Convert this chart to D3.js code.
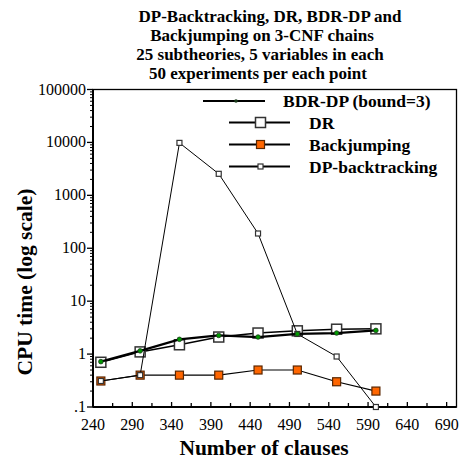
<!DOCTYPE html>
<html>
<head>
<meta charset="utf-8">
<script src="https://cdn.jsdelivr.net/npm/d3@7"></script>
<style>
  body { margin: 0; background: #fff; }
  text { font-family: "Liberation Serif", "Times New Roman", serif; }
  .title { font-weight: bold; font-size: 17px; }
  .axis-label { font-weight: bold; font-size: 21.5px; }
  .tick-label { font-size: 16px; }
  .legend-label { font-weight: bold; font-size: 17.5px; }
</style>
</head>
<body>
<div id="chart"></div>
<script>
var width = 465;
var height = 463;

// data
var clauses = [250, 300, 350, 400, 450, 500, 550, 600];
var bdrDp = [0.72, 1.15, 1.9, 2.25, 2.1, 2.4, 2.5, 2.8];
var dr = [0.7, 1.1, 1.5, 2.1, 2.5, 2.75, 2.95, 3.0];
var backjumping = [0.31, 0.4, 0.4, 0.4, 0.5, 0.5, 0.3, 0.2];
var dpBacktracking = [0.31, 0.4, 9800, 2550, 190, 2.4, 0.9, 0.1];

var xTicks = [240, 290, 340, 390, 440, 490, 540, 590, 640, 690];
var yTicks = [0.1, 1, 10, 100, 1000, 10000, 100000];
var yTickLabels = [".1", "1", "10", "100", "1000", "10000", "100000"];

var titleLines = [
  "DP-Backtracking, DR, BDR-DP and",
  "Backjumping on 3-CNF chains",
  "25 subtheories, 5 variables in each",
  "50 experiments per each point"
];

var svg = d3.select("#chart").append("svg")
  .attr("width", width)
  .attr("height", height);

var xScale = d3.scaleLinear()
  .domain([240, 700])
  .range([93, 454.5]);

var yScale = d3.scaleLog()
  .domain([0.1, 100000])
  .range([407, 89.5]);

// title
var titleX = [270, 262, 260, 258];
svg.selectAll(".title")
  .data(titleLines)
  .enter()
  .append("text")
  .attr("class", "title")
  .attr("x", function(d, i) { return titleX[i]; })
  .attr("y", function(d, i) { return 22 + i * 19; })
  .attr("text-anchor", "middle")
  .text(function(d) { return d; });

// frame
svg.append("rect")
  .attr("x", xScale.range()[0])
  .attr("y", yScale.range()[1])
  .attr("width", 456.5 - xScale.range()[0])
  .attr("height", yScale.range()[0] - yScale.range()[1])
  .attr("fill", "none")
  .attr("stroke", "black")
  .attr("stroke-width", 1.3);

// y axis line (thicker)
svg.append("line")
  .attr("x1", xScale.range()[0]).attr("x2", xScale.range()[0])
  .attr("y1", yScale.range()[1]).attr("y2", yScale.range()[0])
  .attr("stroke", "black").attr("stroke-width", 2);

// x axis line
svg.append("line")
  .attr("x1", xScale.range()[0]).attr("x2", 456.5)
  .attr("y1", yScale.range()[0]).attr("y2", yScale.range()[0])
  .attr("stroke", "black").attr("stroke-width", 2);

// y ticks: major + minor (outside, to the left)
var yMinor = [];
for (var e = -1; e < 5; e++) {
  for (var m = 2; m <= 9; m++) {
    yMinor.push(m * Math.pow(10, e));
  }
}
svg.selectAll(".yminor")
  .data(yMinor)
  .enter()
  .append("line")
  .attr("class", "yminor")
  .attr("x1", xScale.range()[0] - 3)
  .attr("x2", xScale.range()[0])
  .attr("y1", function(d) { return yScale(d); })
  .attr("y2", function(d) { return yScale(d); })
  .attr("stroke", "black")
  .attr("stroke-width", 1);

svg.selectAll(".ymajor")
  .data(yTicks)
  .enter()
  .append("line")
  .attr("class", "ymajor")
  .attr("x1", xScale.range()[0] - 6)
  .attr("x2", xScale.range()[0])
  .attr("y1", function(d) { return yScale(d); })
  .attr("y2", function(d) { return yScale(d); })
  .attr("stroke", "black")
  .attr("stroke-width", 1.3);

svg.selectAll(".ylabel")
  .data(yTicks)
  .enter()
  .append("text")
  .attr("class", "tick-label")
  .attr("x", 86)
  .attr("y", function(d) { return yScale(d) + 5; })
  .attr("text-anchor", "end")
  .text(function(d, i) { return yTickLabels[i]; });

// x ticks: every 25, pointing up (inside)
var xMinor = d3.range(240, 701, 25);
svg.selectAll(".xtick")
  .data(xMinor)
  .enter()
  .append("line")
  .attr("class", "xtick")
  .attr("x1", function(d) { return xScale(d); })
  .attr("x2", function(d) { return xScale(d); })
  .attr("y1", yScale.range()[0])
  .attr("y2", function(d) { return yScale.range()[0] - ((d - 240) % 50 === 0 ? 5 : 4); })
  .attr("stroke", "black")
  .attr("stroke-width", 1.3);

svg.selectAll(".xlabel")
  .data(xTicks)
  .enter()
  .append("text")
  .attr("class", "tick-label")
  .attr("x", function(d) { return xScale(d); })
  .attr("y", 430)
  .attr("text-anchor", "middle")
  .text(function(d) { return d; });

// axis titles
svg.append("text")
  .attr("class", "axis-label")
  .attr("x", 264)
  .attr("y", 455)
  .attr("text-anchor", "middle")
  .text("Number of clauses");

svg.append("text")
  .attr("class", "axis-label")
  .attr("transform", "translate(32,282) rotate(-90)")
  .attr("text-anchor", "middle")
  .text("CPU time (log scale)");

// series
var series = [
  {name: "DR", values: dr, width: 1.5, marker: "square", size: 10, fill: "white", stroke: "#333", sw: 1.5},
  {name: "Backjumping", values: backjumping, width: 1.2, marker: "square", size: 8, fill: "#ff6600", stroke: "#5a2600", sw: 1.2},
  {name: "DP-backtracking", values: dpBacktracking, width: 1, marker: "square", size: 5, fill: "white", stroke: "#333", sw: 1.2},
  {name: "BDR-DP (bound=3)", values: bdrDp, width: 2.2, marker: "dot", size: 2.3, fill: "#009900", stroke: "#1a3a1a", sw: 0.8}
];

var line = d3.line()
  .x(function(d) { return xScale(d[0]); })
  .y(function(d) { return yScale(d[1]); });

series.forEach(function(s) {
  var pts = clauses.map(function(c, i) { return [c, s.values[i]]; });
  var g = svg.append("g");
  g.append("path")
    .datum(pts)
    .attr("d", line)
    .attr("fill", "none")
    .attr("stroke", "black")
    .attr("stroke-width", s.width);
  if (s.marker === "square") {
    g.selectAll("rect")
      .data(pts)
      .enter()
      .append("rect")
      .attr("x", function(d) { return xScale(d[0]) - s.size / 2; })
      .attr("y", function(d) { return yScale(d[1]) - s.size / 2; })
      .attr("width", s.size)
      .attr("height", s.size)
      .attr("fill", s.fill)
      .attr("stroke", s.stroke)
      .attr("stroke-width", s.sw);
  } else {
    g.selectAll("circle")
      .data(pts)
      .enter()
      .append("circle")
      .attr("cx", function(d) { return xScale(d[0]); })
      .attr("cy", function(d) { return yScale(d[1]); })
      .attr("r", s.size)
      .attr("fill", s.fill)
      .attr("stroke", s.stroke)
      .attr("stroke-width", s.sw);
  }
});

// legend
var legendItems = [series[3], series[0], series[1], series[2]];
var legendLineX = [[203, 265], [229, 290], [229, 290], [229, 290]];
var legendTextX = [283, 309, 309, 309];
var legendY = [101, 122.5, 144.5, 166.5];

legendItems.forEach(function(s, i) {
  var g = svg.append("g");
  var x0 = legendLineX[i][0], x1 = legendLineX[i][1];
  var cx = (x0 + x1) / 2 + (i === 0 ? 2 : 1);
  g.append("line")
    .attr("x1", x0).attr("x2", x1)
    .attr("y1", legendY[i]).attr("y2", legendY[i])
    .attr("stroke", "black")
    .attr("stroke-width", 2.2);
  if (s.marker === "square") {
    g.append("rect")
      .attr("x", cx - s.size / 2)
      .attr("y", legendY[i] - s.size / 2)
      .attr("width", s.size)
      .attr("height", s.size)
      .attr("fill", s.fill)
      .attr("stroke", s.stroke)
      .attr("stroke-width", s.sw);
  } else {
    g.append("circle")
      .attr("cx", cx)
      .attr("cy", legendY[i])
      .attr("r", 1.8)
      .attr("fill", "#1a3a1a");
  }
  g.append("text")
    .attr("class", "legend-label")
    .attr("x", legendTextX[i])
    .attr("y", legendY[i] + 6)
    .text(s.name);
});
</script>
</body>
</html>
